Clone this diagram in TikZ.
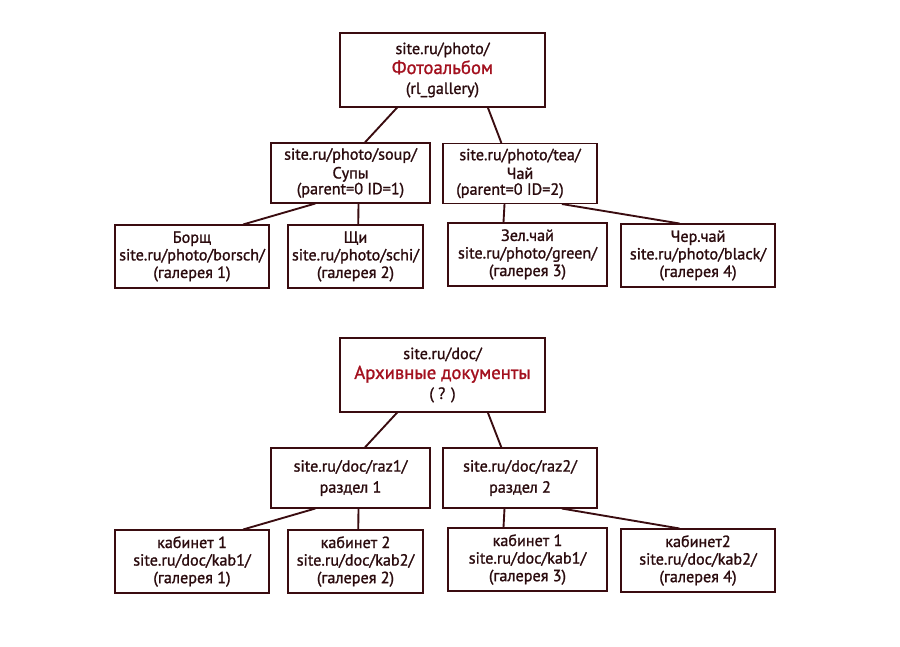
\documentclass[tikz,border=0pt]{standalone}
\usepackage{fontspec}
\setmainfont{PT Sans}[FakeBold=1.2]
\usetikzlibrary{calc}
\definecolor{LinBrd}{HTML}{3A0C10}
\definecolor{TxtDark}{HTML}{2B0B0E}
\definecolor{TxtRed}{HTML}{A3101E}
\tikzset{
  every picture/.append style={font=\fontsize{13.8}{15}\selectfont},
  box/.style={rectangle, draw=LinBrd, line width=0.9pt, fill=white, text=TxtDark,
              align=center, inner sep=0pt},
  rootbox/.style={box, minimum width=6.15cm, minimum height=2.22cm,
                  font=\fontsize{13.8}{17}\selectfont},
  midbox/.style={box, minimum width=4.77cm, minimum height=1.8cm},
  leafbox/.style={box, minimum width=4.62cm, minimum height=1.89cm},
  link/.style={draw=LinBrd, line width=1.6pt},
}
\newcommand{\redhd}[1]{\textcolor{TxtRed}{\fontsize{16}{17}\selectfont #1}}

\begin{document}
\begin{tikzpicture}[x=0.03cm,y=-0.03cm]
\useasboundingbox (0,0) rectangle (900,646);

% ---------------- photo tree --------------------------------------------------
\node[rootbox] (r1) at (442.5,70)
  {site.ru/photo/\\ \redhd{Фотоальбом}\\ (rl\_gallery)};
\node[midbox] (m1) at (350.5,173)
  {site.ru/photo/soup/\\[1pt] Супы\\[-1.5pt] (parent=0 ID=1)};
\node[midbox, minimum width=4.62cm] (m2) at (520,173.5)
  {site.ru/photo/tea/\\[1pt] Чай\\[-1.5pt] \hspace*{-0.6cm}(parent=0 ID=2)};
\node[leafbox] (l1) at (192,256.5)
  {Борщ\\ site.ru/photo/borsch/\\ (галерея 1)};
\node[leafbox, minimum width=4.05cm] (l2) at (355.5,256.5)
  {Щи\\ site.ru/photo/schi/\\ (галерея 2)};
\node[leafbox, minimum width=4.77cm] (l3) at (527.5,254.5)
  {Зел.чай\\ site.ru/photo/green/\\ (галерея 3)};
\node[leafbox] (l4) at (698,255.5)
  {Чер.чай\\ site.ru/photo/black/\\ (галерея 4)};

\draw[link] ($(r1.south west)!0.28!(r1.south east)$) -- ($(m1.north west)!0.59!(m1.north east)$);
\draw[link] ($(r1.south west)!0.72!(r1.south east)$) -- ($(m2.north west)!0.38!(m2.north east)$);
\draw[link] ($(m1.south west)!0.28!(m1.south east)$) -- ($(l1.north west)!0.83!(l1.north east)$);
\draw[link] ($(m1.south west)!0.55!(m1.south east)$) -- ($(l2.north west)!0.52!(l2.north east)$);
\draw[link] ($(m2.south west)!0.40!(m2.south east)$) -- ($(l3.north west)!0.35!(l3.north east)$);
\draw[link] ($(m2.south west)!0.77!(m2.south east)$) -- ($(l4.north west)!0.38!(l4.north east)$);

% ---------------- doc tree ----------------------------------------------------
\node[rootbox] (r2) at (442.5,375)
  {site.ru/doc/\\ \redhd{Архивные документы}\\ ( ? )};
\node[midbox] (m3) at (350.5,478)
  {site.ru/doc/raz1/\\[3pt] раздел 1};
\node[midbox, minimum width=4.62cm] (m4) at (520,478)
  {site.ru/doc/raz2/\\[3pt] раздел 2};
\node[leafbox] (l5) at (192,561.5)
  {кабинет 1\\ site.ru/doc/kab1/\\ (галерея 1)};
\node[leafbox, minimum width=4.05cm] (l6) at (355.5,561.5)
  {кабинет 2\\ site.ru/doc/kab2/\\ (галерея 2)};
\node[leafbox, minimum width=4.77cm] (l7) at (527.5,559.5)
  {кабинет 1\\ site.ru/doc/kab1/\\ (галерея 3)};
\node[leafbox] (l8) at (698,560.5)
  {кабинет2\\ site.ru/doc/kab2/\\ (галерея 4)};

\draw[link] ($(r2.south west)!0.28!(r2.south east)$) -- ($(m3.north west)!0.59!(m3.north east)$);
\draw[link] ($(r2.south west)!0.72!(r2.south east)$) -- ($(m4.north west)!0.38!(m4.north east)$);
\draw[link] ($(m3.south west)!0.28!(m3.south east)$) -- ($(l5.north west)!0.83!(l5.north east)$);
\draw[link] ($(m3.south west)!0.55!(m3.south east)$) -- ($(l6.north west)!0.52!(l6.north east)$);
\draw[link] ($(m4.south west)!0.40!(m4.south east)$) -- ($(l7.north west)!0.35!(l7.north east)$);
\draw[link] ($(m4.south west)!0.77!(m4.south east)$) -- ($(l8.north west)!0.38!(l8.north east)$);

\end{tikzpicture}
\end{document}
